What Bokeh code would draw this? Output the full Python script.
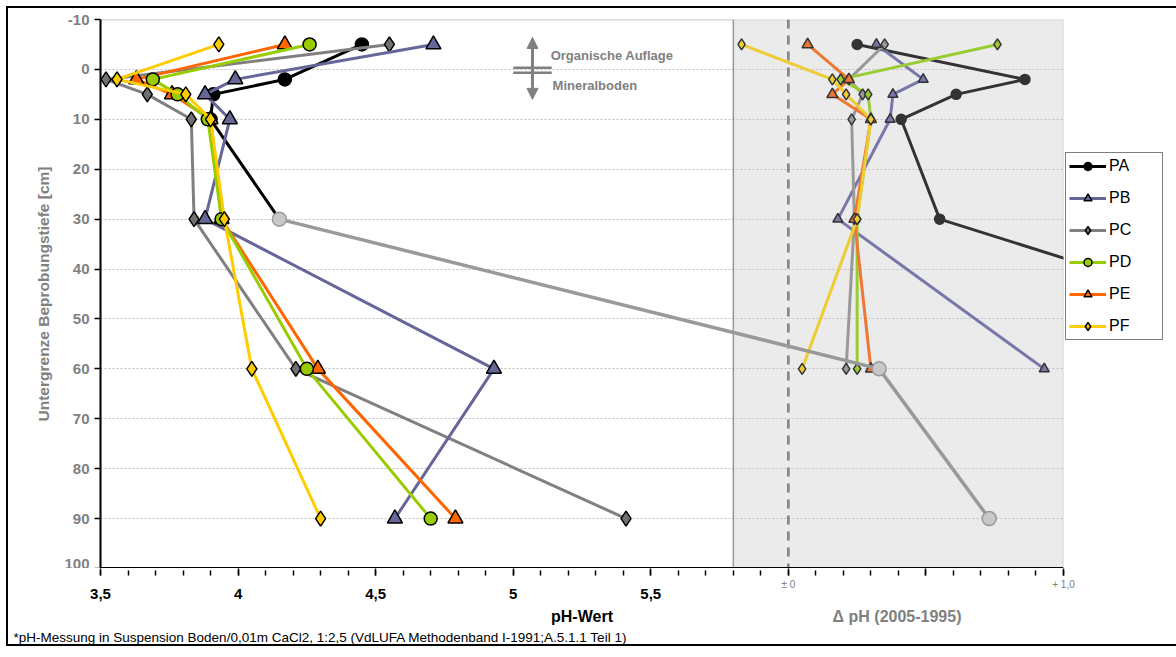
from bokeh.plotting import figure
from bokeh.layouts import column
from bokeh.models import (Range1d, FixedTicker, Legend, LegendItem, BoxAnnotation,
                          Span, Label, Arrow, NormalHead, LinearAxis, Title)
from bokeh.embed import file_html
from bokeh.resources import INLINE

FONT = "Liberation Sans"

# ---------------- data ----------------
depths = [-5, 2, 5, 10, 30, 60, 90]          # Untergrenze Beprobungstiefe [cm]
ph_PA = [4.45, 4.17, 3.91, 3.90, 4.15, 6.33, 6.73]
ph_PB = [4.71, 3.99, 3.88, 3.97, 3.88, 4.93, 4.57]
ph_PC = [4.55, 3.52, 3.67, 3.83, 3.84, 4.21, 5.41]
ph_PD = [4.26, 3.69, 3.78, 3.89, 3.94, 4.25, 4.70]
ph_PE = [4.17, 3.63, 3.76, 3.90, 3.94, 4.29, 4.79]
ph_PF = [3.93, 3.56, 3.81, 3.90, 3.95, 4.05, 4.30]

delta_depths = [-5, 2, 5, 10, 30, 60]        # Delta pH (2005-1995)
d_PA = [0.25, 0.86, 0.61, 0.41, 0.55, 2.28]
d_PB = [0.32, 0.49, 0.38, 0.37, 0.18, 0.93]
d_PC = [0.35, 0.22, 0.27, 0.23, 0.24, 0.21]
d_PD = [0.76, 0.19, 0.29, 0.30, 0.25, 0.25]
d_PE = [0.07, 0.22, 0.16, 0.30, 0.24, 0.30]
d_PF = [-0.17, 0.16, 0.21, 0.30, 0.25, 0.05]

series_names = ["PA", "PB", "PC", "PD", "PE", "PF"]

x_major_ticks = [3.5, 4.0, 4.5, 5.0, 5.5, 6.0, 6.5, 7.0]
x_tick_values = [3.5, 4.0, 4.5, 5.0, 5.5]
x_tick_labels = ["3,5", "4", "4,5", "5", "5,5"]
delta_tick_values = [0.0, 1.0]
delta_tick_labels = ["\u00b1 0", "+ 1,0"]
y_tick_values = [-10, 0, 10, 20, 30, 40, 50, 60, 70, 80, 90, 100]
y_tick_labels = ["-10", "0", "10", "20", "30", "40", "50", "60", "70", "80", "90", "100"]

# ---------------- styles ----------------
main_style = {
    "PA": dict(color="#000000", marker="circle", fill="#000000", size=13),
    "PB": dict(color="#666699", marker="triangle", fill="#666699", size=15),
    "PC": dict(color="#808080", marker="diamond", fill="#707070", size=15),
    "PD": dict(color="#99CC00", marker="circle", fill="#99CC00", size=13),
    "PE": dict(color="#FF6600", marker="triangle", fill="#FF6600", size=15),
    "PF": dict(color="#FFCC00", marker="diamond", fill="#FFCC00", size=15),
}
delta_style = {
    "PA": dict(color="#333333", marker="circle", fill="#333333", size=10),
    "PB": dict(color="#7777AA", marker="triangle", fill="#7777AA", size=10),
    "PC": dict(color="#999999", marker="diamond", fill="#999999", size=11),
    "PD": dict(color="#99CC33", marker="diamond", fill="#99CC33", size=11),
    "PE": dict(color="#EE7733", marker="triangle", fill="#EE7733", size=11),
    "PF": dict(color="#EECC33", marker="diamond", fill="#EECC33", size=11),
}
ph_data = {"PA": ph_PA, "PB": ph_PB, "PC": ph_PC, "PD": ph_PD, "PE": ph_PE, "PF": ph_PF}
delta_data = {"PA": d_PA, "PB": d_PB, "PC": d_PC, "PD": d_PD, "PE": d_PE, "PF": d_PF}
gray = "#808080"

# ---------------- main figure ----------------
p = figure(frame_width=963, frame_height=549,
           x_range=Range1d(3.5, 7.0), y_range=Range1d(100, -10),
           x_axis_location=None,
           output_backend="svg", toolbar_location=None,
           min_border_left=92, min_border_right=105, min_border_top=11,
           min_border_bottom=0)
p.extra_x_ranges = {"delta": Range1d(-2.5, 1.0)}
p.outline_line_color = None
p.background_fill_color = "white"
p.border_fill_color = "white"

# grid
p.xgrid.visible = False
p.ygrid.ticker = FixedTicker(ticks=y_tick_values)
p.ygrid.grid_line_color = "#BFBFBF"
p.ygrid.grid_line_dash = "2 2"
p.ygrid.grid_line_width = 1

# y axis
ya = p.yaxis[0]
ya.ticker = FixedTicker(ticks=y_tick_values)
ya.major_label_overrides = {v: l for v, l in zip(y_tick_values, y_tick_labels)}
ya.major_label_text_font = FONT
ya.major_label_text_font_style = "bold"
ya.major_label_text_font_size = "15px"
ya.major_label_text_color = gray
ya.major_label_standoff = 5
ya.axis_line_color = "black"
ya.axis_line_width = 2
ya.major_tick_out = 6
ya.major_tick_in = 0
ya.minor_tick_line_color = None
ya.major_tick_line_color = "black"
ya.major_tick_line_width = 1.5
ya.axis_label = "Untergrenze Beprobungstiefe [cm]"
ya.axis_label_text_font = FONT
ya.axis_label_text_font_style = "bold"
ya.axis_label_text_font_size = "15.5px"
ya.axis_label_text_color = gray
ya.axis_label_standoff = 9

# delta panel background + frame lines
p.add_layout(BoxAnnotation(left=5.8, fill_color="#EBEBEB", fill_alpha=1.0,
                           line_color=None, level="image"))
p.add_layout(BoxAnnotation(right=5.8, fill_alpha=0, line_color="black",
                           line_width=1.5, level="underlay"))
p.add_layout(BoxAnnotation(left=5.8, fill_alpha=0, line_color=gray,
                           line_width=1.5, level="underlay"))
p.add_layout(Span(location=0, dimension="height", x_range_name="delta",
                  line_color=gray, line_width=2.5, line_dash="9 7", level="underlay"))
p.add_layout(Span(location=100, dimension="width", line_color="black",
                  line_width=3, level="guide"))

# ---------------- delta series ----------------
for name in series_names:
    st = delta_style[name]
    p.line(delta_data[name], delta_depths, x_range_name="delta",
           line_color=st["color"], line_width=3)
for name in series_names:
    st = delta_style[name]
    p.scatter(delta_data[name], delta_depths, x_range_name="delta", marker=st["marker"],
              size=st["size"], fill_color=st["fill"], line_color="#333333", line_width=1.5)

# ---------------- main series ----------------
pa_line = p.line(ph_PA[:5], depths[:5], line_color="black", line_width=3)
p.line(ph_PA[4:], depths[4:], line_color="#999999", line_width=3.5)
p.scatter(ph_PA[4:], depths[4:], marker="circle", size=14,
          fill_color="#C8C8C8", line_color="#999999", line_width=1.5)
pa_sc = p.scatter(ph_PA[:4], depths[:4], marker="circle", size=13,
                  fill_color="black", line_color="black", line_width=1.5)
renderers = {"PA": [pa_line, pa_sc]}
for name in ["PC", "PB", "PE", "PD", "PF"]:
    st = main_style[name]
    r1 = p.line(ph_data[name], depths, line_color=st["color"], line_width=3)
    r2 = p.scatter(ph_data[name], depths, marker=st["marker"], size=st["size"],
                   fill_color=st["fill"], line_color="black", line_width=1.5)
    renderers[name] = [r1, r2]
legend_items = [LegendItem(label=name, renderers=renderers[name]) for name in series_names]

legend = Legend(items=legend_items, location=(2, 228),
                border_line_color="black", border_line_width=1.5,
                background_fill_color="white", background_fill_alpha=1.0,
                padding=3, spacing=12, glyph_width=37, glyph_height=20,
                label_standoff=3, label_width=50, margin=0,
                label_text_font=FONT, label_text_font_size="16px",
                label_text_color="black")
p.add_layout(legend, "right")

# ---------------- in-plot annotation ----------------
p.add_layout(Arrow(x_start=5.07, y_start=6.0, x_end=5.07, y_end=-6.4,
                   line_color=gray, line_width=3,
                   start=NormalHead(size=11, fill_color=gray, line_color=gray),
                   end=NormalHead(size=11, fill_color=gray, line_color=gray)))
p.add_layout(Arrow(x_start=5.0, y_start=-0.35, x_end=5.14, y_end=-0.35, end=None,
                   line_color=gray, line_width=2.5))
p.add_layout(Arrow(x_start=5.0, y_start=0.65, x_end=5.14, y_end=0.65, end=None,
                   line_color=gray, line_width=2.5))
p.add_layout(Label(x=5.136, y=-2.8, text="Organische Auflage", text_font=FONT,
                   text_font_style="bold", text_font_size="13px", text_color=gray,
                   text_baseline="middle"))
p.add_layout(Label(x=5.143, y=3.2, text="Mineralboden", text_font=FONT,
                   text_font_style="bold", text_font_size="13px", text_color=gray,
                   text_baseline="middle"))

# ---------------- caption strip: ticks, tick labels, axis titles, footnote ----------------
cap = figure(frame_width=963, frame_height=35, x_range=Range1d(3.5, 7.0),
             y_range=Range1d(35, 0), x_axis_location=None, y_axis_location=None,
             output_backend="svg", toolbar_location=None,
             min_border_left=92, min_border_right=105,
             min_border_top=0, min_border_bottom=0)
cap.extra_x_ranges = {"delta": Range1d(-2.5, 1.0)}
cap.outline_line_color = None
cap.xgrid.visible = False
cap.ygrid.visible = False

# pH tick labels (nearest the caption frame)
ax_ph = LinearAxis(ticker=FixedTicker(ticks=x_tick_values))
ax_ph.major_label_overrides = {v: l for v, l in zip(x_tick_values, x_tick_labels)}
ax_ph.major_label_text_font = FONT
ax_ph.major_label_text_font_style = "bold"
ax_ph.major_label_text_font_size = "15px"
ax_ph.major_label_text_color = "black"
ax_ph.major_label_standoff = -6
ax_ph.axis_line_color = None
ax_ph.major_tick_line_color = None
ax_ph.minor_tick_line_color = None
ax_ph.major_tick_out = 0
ax_ph.major_tick_in = 0
cap.add_layout(ax_ph, "above")

# Delta pH tick labels (second scale)
ax_d = LinearAxis(x_range_name="delta", ticker=FixedTicker(ticks=delta_tick_values))
ax_d.major_label_overrides = {v: l for v, l in zip(delta_tick_values, delta_tick_labels)}
ax_d.major_label_text_font = FONT
ax_d.major_label_text_font_size = "10px"
ax_d.major_label_text_color = gray
ax_d.major_label_standoff = -4
ax_d.axis_line_color = None
ax_d.major_tick_line_color = None
ax_d.minor_tick_line_color = None
ax_d.major_tick_out = 0
ax_d.major_tick_in = 0
cap.add_layout(ax_d, "above")

# tick marks hanging under the plot frame (outermost, top of the strip)
ax_t = LinearAxis(ticker=FixedTicker(ticks=x_major_ticks,
                                     minor_ticks=[round(3.5 + 0.1 * i, 2) for i in range(36)]))
ax_t.major_label_overrides = {v: "" for v in x_major_ticks}
ax_t.major_label_text_font_size = "1px"
ax_t.major_label_standoff = 0
ax_t.axis_line_color = None
ax_t.major_tick_out = 7
ax_t.major_tick_in = 0
ax_t.minor_tick_out = 5
ax_t.minor_tick_in = 0
ax_t.major_tick_line_color = "black"
ax_t.minor_tick_line_color = "black"
ax_t.major_tick_line_width = 1.5
ax_t.minor_tick_line_width = 1.5
cap.add_layout(ax_t, "above")

cap.add_layout(Label(x=5.25, y=24, text="pH-Wert", text_font=FONT,
                     text_font_style="bold", text_font_size="16px", text_color="black",
                     text_align="center", text_baseline="middle"))
cap.add_layout(Label(x=0.395, y=24, x_range_name="delta", text="\u0394 pH (2005-1995)",
                     text_font=FONT, text_font_style="bold", text_font_size="16px",
                     text_color=gray, text_align="center", text_baseline="middle"))
cap.add_layout(Title(text="*pH-Messung in Suspension Boden/0,01m CaCl2, 1:2,5 (VdLUFA Methodenband I-1991;A.5.1.1 Teil 1)",
                     align="left", offset=-87, standoff=0, text_font=FONT,
                     text_font_style="normal", text_font_size="13.5px",
                     text_color="black"), "below")

root = column(p, cap, spacing=0,
              styles={"border": "2px solid black", "margin": "6px"})

open("out.html", "w").write(file_html(root, INLINE))
